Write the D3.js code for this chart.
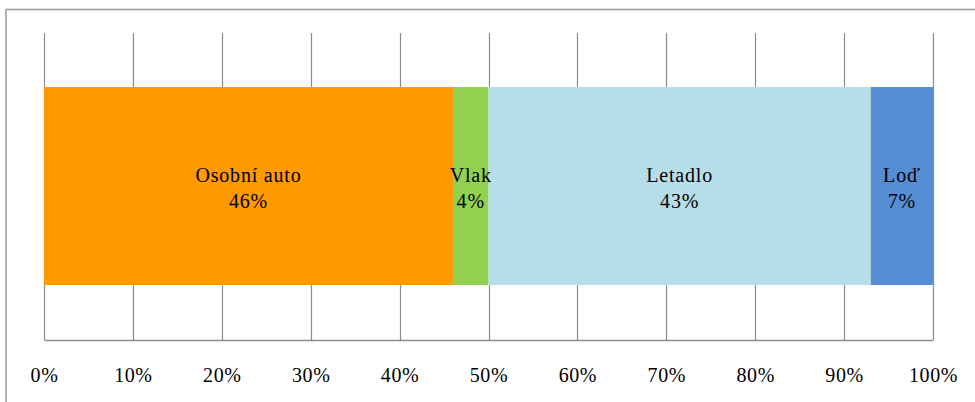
<!DOCTYPE html>
<html>
<head>
<meta charset="utf-8">
<script src="https://cdn.jsdelivr.net/npm/d3@7"></script>
<style>
  html, body { margin: 0; padding: 0; background: #fff; }
  svg { display: block; }
  svg text { font-family: "Liberation Serif", "Times New Roman", serif !important; }
</style>
</head>
<body>
<svg id="chart" width="975" height="402"></svg>
<script>
// Share of transport modes (one stacked 100% bar)
const categories = ["Osobní auto", "Vlak", "Letadlo", "Loď"];
const shares = [46, 4, 43, 7];
const colors = ["#FF9900", "#92D050", "#B7DEE8", "#558ED5"];
const tickValues = [0, 10, 20, 30, 40, 50, 60, 70, 80, 90, 100];

const svg = d3.select("#chart");
const W = 975, H = 402;
const plot = { left: 44, right: 933, top: 33, bottom: 340 };
const bar = { top: 87, bottom: 285 };

// chart frame
svg.append("rect")
  .attr("x", 6).attr("y", 9.5)
  .attr("width", W + 10).attr("height", H + 10)
  .attr("fill", "none").attr("stroke", "#9a9a9a").attr("stroke-width", 1.5);

const x = d3.scaleLinear().domain([0, 100]).range([plot.left, plot.right]);

// vertical gridlines
svg.append("g")
  .selectAll("line")
  .data(tickValues)
  .join("line")
  .attr("x1", d => Math.round(x(d)) + 0.5)
  .attr("x2", d => Math.round(x(d)) + 0.5)
  .attr("y1", plot.top).attr("y2", plot.bottom)
  .attr("stroke", "#8c8c8c").attr("stroke-width", 1.2);

// stacked segments
let acc = 0;
const segs = shares.map((v, i) => {
  const s = { name: categories[i], value: v, start: acc, end: acc + v, color: colors[i] };
  acc += v;
  return s;
});

svg.append("g")
  .selectAll("rect")
  .data(segs)
  .join("rect")
  .attr("x", d => x(d.start))
  .attr("width", d => x(d.end) - x(d.start))
  .attr("y", bar.top)
  .attr("height", bar.bottom - bar.top)
  .attr("fill", d => d.color);

// segment labels: name and percentage
const cx = d => (x(d.start) + x(d.end)) / 2;
const lbl = svg.append("g")
  .selectAll("text")
  .data(segs)
  .join("text")
  .attr("text-anchor", "middle")
  .style("font-size", "20px")
  .style("letter-spacing", "0.8px")
  .attr("fill", "#000");
lbl.append("tspan")
  .attr("x", cx)
  .attr("y", 182)
  .text(d => d.name);
lbl.append("tspan")
  .attr("x", cx)
  .attr("y", 208)
  .text(d => d.value + "%");

// x axis
const axis = d3.axisBottom(x)
  .tickValues(tickValues)
  .tickFormat(d => d + "%")
  .tickSize(0)
  .tickPadding(0);
const gAxis = svg.append("g")
  .attr("transform", `translate(0,${plot.bottom})`)
  .call(axis);
gAxis.select(".domain")
  .attr("stroke", "#8c8c8c").attr("stroke-width", 1.5);
gAxis.selectAll("text")
  .attr("fill", "#000")
  .style("font-size", "20px")
  .style("letter-spacing", "0.6px")
  .attr("dy", 0)
  .attr("y", 42);
</script>
</body>
</html>
